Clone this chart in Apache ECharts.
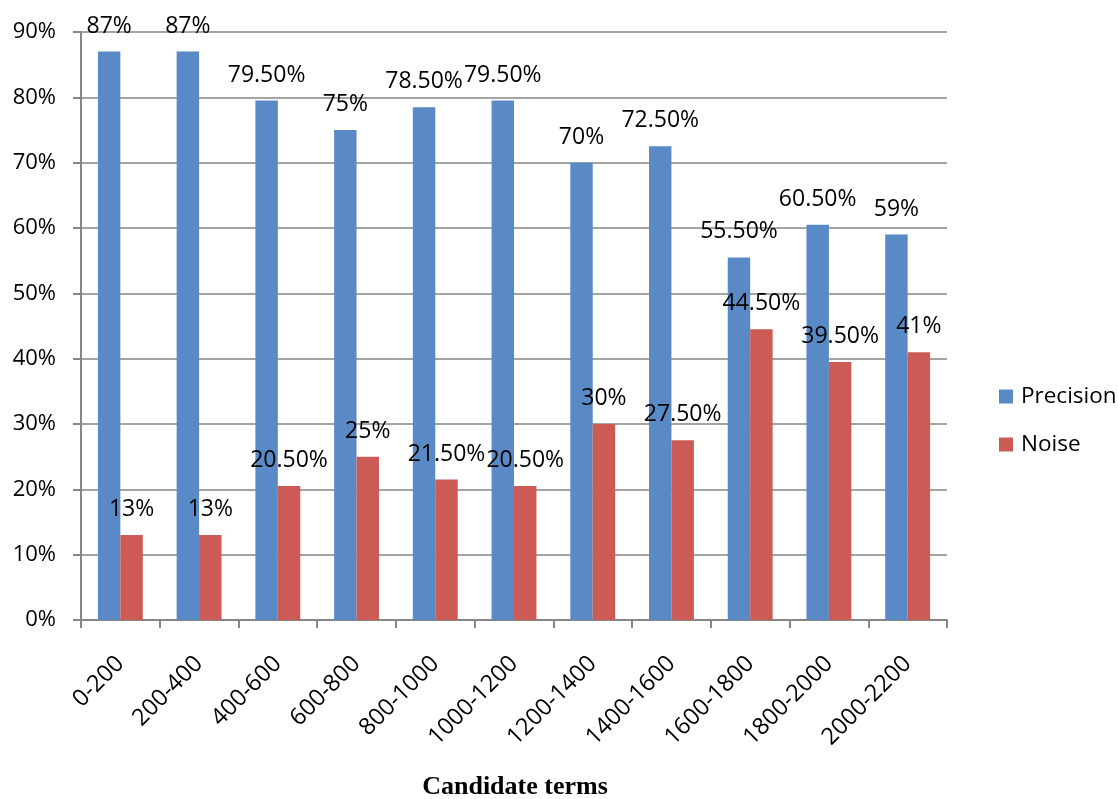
<!DOCTYPE html>
<html>
<head>
<meta charset="utf-8">
<script src="https://cdn.jsdelivr.net/npm/echarts@6/dist/echarts.min.js"></script>
<style>
  html, body { margin: 0; padding: 0; background: #fff; }
  #chart { width: 1118px; height: 799px; }
</style>
</head>
<body>
<div id="chart"></div>
<script>
// Candidate term ranges and the share of precision / noise in each
const categories = ['0-200', '200-400', '400-600', '600-800', '800-1000', '1000-1200',
  '1200-1400', '1400-1600', '1600-1800', '1800-2000', '2000-2200'];
const precision = [87, 87, 79.5, 75, 78.5, 79.5, 70, 72.5, 55.5, 60.5, 59];
const noise = [13, 13, 20.5, 25, 21.5, 20.5, 30, 27.5, 44.5, 39.5, 41];
const yTicks = { min: 0, max: 90, step: 10 };

const FONT = '"Open Sans", "Noto Sans", sans-serif';
const AXIS_GRAY = '#868686';

// Whole numbers print as "87%", fractional ones with two decimals ("79.50%")
function pct(v) {
  return Number.isInteger(v) ? v + '%' : v.toFixed(2) + '%';
}

const barLabel = {
  show: true,
  position: 'top',
  distance: 14,
  color: '#000',
  fontFamily: FONT,
  fontSize: 23,
  formatter: p => pct(p.value)
};

const chart = echarts.init(document.getElementById('chart'), null, { renderer: 'canvas' });
chart.setOption({
  animation: false,
  backgroundColor: '#fff',
  grid: { left: 81, right: 171, top: 32, bottom: 179, containLabel: false },
  title: {
    text: 'Candidate terms',
    left: 510,
    top: 769,
    textAlign: 'center',
    textStyle: { fontFamily: '"Liberation Serif", "Times New Roman", serif', fontWeight: 'bold', fontSize: 26, color: '#000' }
  },
  legend: {
    orient: 'vertical',
    left: 994,
    top: 380,
    itemWidth: 14,
    itemHeight: 14,
    itemGap: 25,
    icon: 'rect',
    textStyle: { fontFamily: FONT, fontSize: 22.5, color: '#000', padding: [0, 0, 0, 3] },
    data: ['Precision', 'Noise']
  },
  xAxis: {
    type: 'category',
    data: categories,
    boundaryGap: true,
    axisLine: { lineStyle: { color: AXIS_GRAY, width: 2 } },
    axisTick: { show: true, length: 8, inside: false, lineStyle: { color: AXIS_GRAY, width: 2 } },
    axisLabel: { rotate: 45, margin: 40, interval: 0, color: '#000', fontFamily: FONT, fontSize: 23.5 }
  },
  yAxis: {
    type: 'value',
    min: yTicks.min,
    max: yTicks.max,
    interval: yTicks.step,
    axisLine: { show: true, lineStyle: { color: AXIS_GRAY, width: 2 } },
    axisTick: { show: true, length: 8, lineStyle: { color: AXIS_GRAY, width: 2 } },
    splitLine: { show: true, lineStyle: { color: AXIS_GRAY, width: 1.5 } },
    axisLabel: { margin: 25, color: '#000', fontFamily: FONT, fontSize: 22, formatter: v => v + '%' }
  },
  series: [
    {
      name: 'Precision',
      type: 'bar',
      data: precision,
      barGap: '0%',
      barCategoryGap: '43%',
      itemStyle: { color: '#5a8ac6' },
      label: barLabel
    },
    {
      name: 'Noise',
      type: 'bar',
      data: noise,
      barGap: '0%',
      barCategoryGap: '43%',
      itemStyle: { color: '#cc5a55' },
      label: barLabel
    }
  ]
});
</script>
</body>
</html>
